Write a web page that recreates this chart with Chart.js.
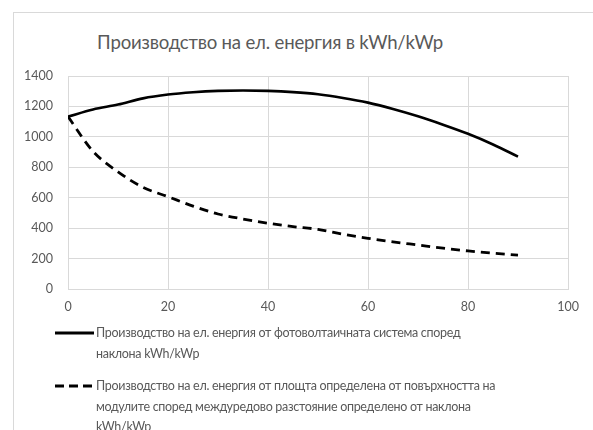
<!DOCTYPE html>
<html>
<head>
<meta charset="utf-8">
<script src="https://cdn.jsdelivr.net/npm/chart.js@4/dist/chart.umd.min.js"></script>
<style>
  html, body { margin: 0; padding: 0; background: #fff; width: 593px; height: 430px; overflow: hidden; }
  #frame { position: absolute; left: 13px; top: 12px; width: 700px; height: 500px; border: 1px solid #d9d9d9; box-sizing: border-box; }
  #title { position: absolute; left: 0; width: 540px; top: 31px; text-align: center; font-size: 18.6px; letter-spacing: -0.2px;
           color: #595959; font-family: Lato, sans-serif; white-space: nowrap; }
  #wrap { position: absolute; left: 0; top: 0; width: 593px; height: 330px; }
  #legend { position: absolute; left: 53px; top: 323px; color: #595959;
            font-family: Lato, sans-serif; font-size: 12.5px; letter-spacing: -0.3px; line-height: 20.5px; }
  .item { display: flex; align-items: flex-start; margin-bottom: 12px; }
  .item svg { flex: 0 0 auto; margin-top: 4px; }
  .item span { display: block; white-space: nowrap; }
</style>
</head>
<body>
<div id="frame"></div>
<div id="title"></div>
<div id="wrap"><canvas id="c" width="593" height="330"></canvas></div>
<div id="legend"></div>
<script>
const chartTitle = 'Производство на ел. енергия в kWh/kWp';
const angles = [0, 5, 10, 15, 20, 25, 30, 35, 40, 45, 50, 55, 60, 65, 70, 75, 80, 85, 90];
const bySlope = [1133, 1180, 1212, 1253, 1278, 1293, 1302, 1305, 1302, 1294, 1280, 1256, 1225, 1183, 1135, 1080, 1020, 950, 870];
const byArea = [1133, 905, 770, 668, 607, 545, 493, 460, 432, 410, 392, 360, 333, 310, 289, 268, 250, 235, 223];
const slopeName = ['Производство на ел. енергия от фотоволтаичната система според', 'наклона kWh/kWp'];
const areaName = ['Производство на ел. енергия от площта определена от повърхността на',
                  'модулите според междуредово разстояние определено от наклона', 'kWh/kWp'];
const xTicks = [0, 20, 40, 60, 80, 100];
const yTicks = [0, 200, 400, 600, 800, 1000, 1200, 1400];

const gray = '#595959';
const gridColor = '#d9d9d9';
const fontFamily = 'Lato, sans-serif';

document.getElementById('title').textContent = chartTitle;

const toPoints = vals => angles.map((a, i) => ({ x: a, y: vals[i] }));

const chart = new Chart(document.getElementById('c'), {
  type: 'line',
  data: {
    datasets: [
      { label: slopeName, data: toPoints(bySlope), borderColor: '#000', borderWidth: 2.6,
        pointRadius: 0, cubicInterpolationMode: 'monotone', fill: false },
      { label: areaName, data: toPoints(byArea), borderColor: '#000', borderWidth: 2.8,
        borderDash: [9, 6], pointRadius: 0, cubicInterpolationMode: 'monotone', fill: false }
    ]
  },
  options: {
    responsive: false,
    animation: false,
    layout: { padding: { top: 76, right: 25, left: 0, bottom: 0 } },
    plugins: { legend: { display: false }, title: { display: false }, tooltip: { enabled: false } },
    scales: {
      x: {
        type: 'linear', min: xTicks[0], max: xTicks[xTicks.length - 1],
        afterBuildTicks: s => { s.ticks = xTicks.map(v => ({ value: v })); },
        afterFit: s => { s.height = 41; },
        grid: { color: gridColor, drawTicks: false, lineWidth: 1 },
        border: { color: gridColor, width: 1 },
        ticks: { color: gray, padding: 10, font: { family: fontFamily, size: 12.5 }, callback: v => String(v) }
      },
      y: {
        min: yTicks[0], max: yTicks[yTicks.length - 1],
        afterBuildTicks: s => { s.ticks = yTicks.map(v => ({ value: v })); },
        afterFit: s => { s.width = 68; },
        grid: { color: gridColor, drawTicks: false, lineWidth: 1 },
        border: { color: gridColor, width: 1 },
        ticks: { color: gray, padding: 15, font: { family: fontFamily, size: 12.5 }, callback: v => String(v) }
      }
    }
  }
});

// Legend: line sample followed by the wrapped series name
const legend = document.getElementById('legend');
chart.data.datasets.forEach(ds => {
  const item = document.createElement('div');
  item.className = 'item';
  const ns = 'http://www.w3.org/2000/svg';
  const svg = document.createElementNS(ns, 'svg');
  svg.setAttribute('width', '43');
  svg.setAttribute('height', '12');
  const ln = document.createElementNS(ns, 'line');
  ln.setAttribute('x1', '2'); ln.setAttribute('x2', '41');
  ln.setAttribute('y1', '6'); ln.setAttribute('y2', '6');
  ln.setAttribute('stroke', '#000');
  ln.setAttribute('stroke-width', '3');
  if (ds.borderDash) ln.setAttribute('stroke-dasharray', '9 5');
  svg.appendChild(ln);
  const txt = document.createElement('span');
  ds.label.forEach((line, i) => {
    if (i) txt.appendChild(document.createElement('br'));
    txt.appendChild(document.createTextNode(line));
  });
  item.appendChild(svg);
  item.appendChild(txt);
  legend.appendChild(item);
});
</script>
</body>
</html>
